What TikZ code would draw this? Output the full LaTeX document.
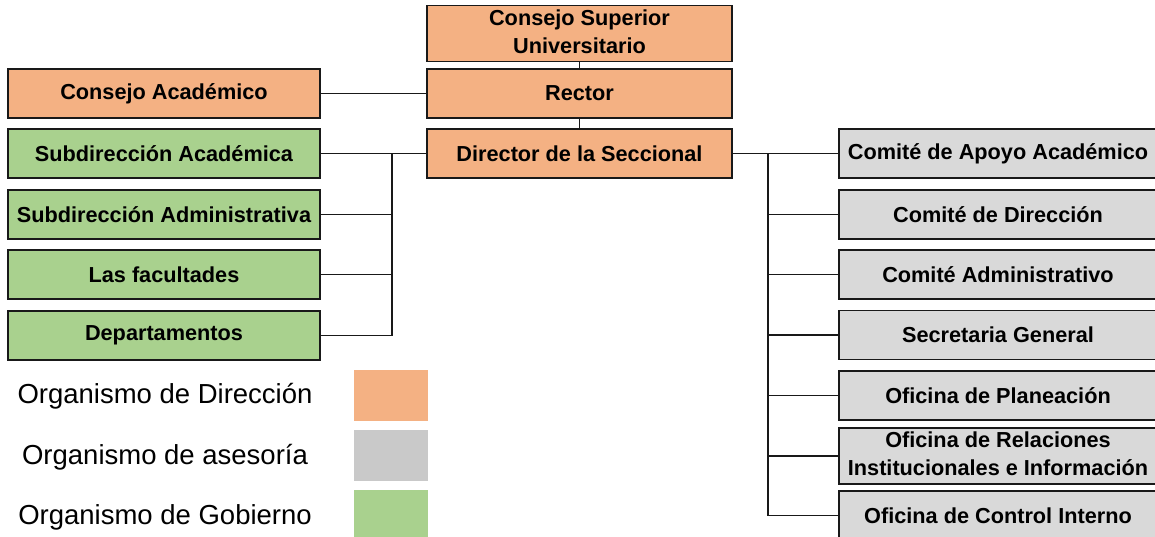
\documentclass[tikz,border=0pt]{standalone}
\usepackage{fontspec}
\setmainfont{Liberation Sans}
\definecolor{direccion}{HTML}{F4B183}
\definecolor{gobierno}{HTML}{A9D18E}
\definecolor{asesoria}{HTML}{D9D9D9}
\definecolor{asesorialeg}{HTML}{C9C9C9}
\tikzset{
  orgbox/.style={draw=black!90,line width=1.7pt,minimum height=49pt,inner sep=0pt,align=center,
    font=\bfseries\fontsize{21.7}{28}\selectfont},
  dirbox/.style={orgbox,fill=direccion,minimum width=305pt},
  govbox/.style={orgbox,fill=gobierno,minimum width=312pt},
  advbox/.style={orgbox,fill=asesoria,minimum width=318pt},
  swatch/.style={minimum width=74pt,minimum height=51pt,inner sep=0pt},
  legtext/.style={font=\fontsize{27.5}{32}\selectfont},
  link/.style={line width=1.8pt,draw=black!90}
}
\begin{document}
\begin{tikzpicture}[x=1pt,y=-1pt]
	\useasboundingbox (0,0) rectangle (1155,536);
	\clip (0,0) rectangle (1155,536);

	% central column
	\node[dirbox] (sup) at (579.5,33.5){\raisebox{-3pt}{\begin{tabular}{c}Consejo Superior\\Universitario\end{tabular}}};
	\node[dirbox] (rector) at (579.5,93.5){Rector};
	\node[dirbox] (dir) at (579.5,153.5){Director de la Seccional};

	% left column
	\node[dirbox,minimum width=312pt] (acad) at (164,93.5){Consejo Académico};
	\node[govbox] (subacad) at (164,153.5){Subdirección Académica};
	\node[govbox] (subadm) at (164,214.5){Subdirección Administrativa};
	\node[govbox] (fac) at (164,274.5){Las facultades};
	\node[govbox] (dep) at (164,335.5){Departamentos};

	% right column
	\node[advbox] (apoyo) at (998,153.5){Comité de Apoyo Académico};
	\node[advbox] (comdir) at (998,214.5){Comité de Dirección};
	\node[advbox] (comadm) at (998,274.5){Comité Administrativo};
	\node[advbox] (secr) at (998,335){Secretaria General};
	\node[advbox] (plan) at (998,395.5){Oficina de Planeación};
	\node[advbox] (rel) at (998,456){\raisebox{-3pt}{\begin{tabular}{c}Oficina de Relaciones\\Institucionales e Información\end{tabular}}};
	\node[advbox] (control) at (998,515.5){Oficina de Control Interno};

	% connectors
	\draw[link] (sup) -- (rector);
	\draw[link] (rector) -- (dir);
	\draw[link] (acad.east) -- (rector.west);
	\draw[link] (subacad.east) -- (dir.west);
	\coordinate (busL) at (392,153.5);
	\draw[link] (busL) |- (dep.east);
	\draw[link] (subadm.east) -- (subadm.east -| busL);
	\draw[link] (fac.east) -- (fac.east -| busL);
	\draw[link] (dir.east) -- (apoyo.west);
	\coordinate (busR) at (768,153.5);
	\draw[link] (busR) |- (control.west);
	\draw[link] (comdir.west) -- (comdir.west -| busR);
	\draw[link] (comadm.west) -- (comadm.west -| busR);
	\draw[link] (secr.west) -- (secr.west -| busR);
	\draw[link] (plan.west) -- (plan.west -| busR);
	\draw[link] (rel.west) -- (rel.west -| busR);

	% legend
	\node[legtext] (legdir) at (165,396){Organismo de Dirección};
	\node[legtext] (legase) at (165,457){Organismo de asesoría};
	\node[legtext] (leggob) at (165,517){Organismo de Gobierno};
	\node[swatch,fill=direccion] (swdir) at (391,395.5){};
	\node[swatch,fill=asesorialeg] (swase) at (391,455.5){};
	\node[swatch,fill=gobierno] (swgob) at (391,515.5){};
\end{tikzpicture}
\end{document}
